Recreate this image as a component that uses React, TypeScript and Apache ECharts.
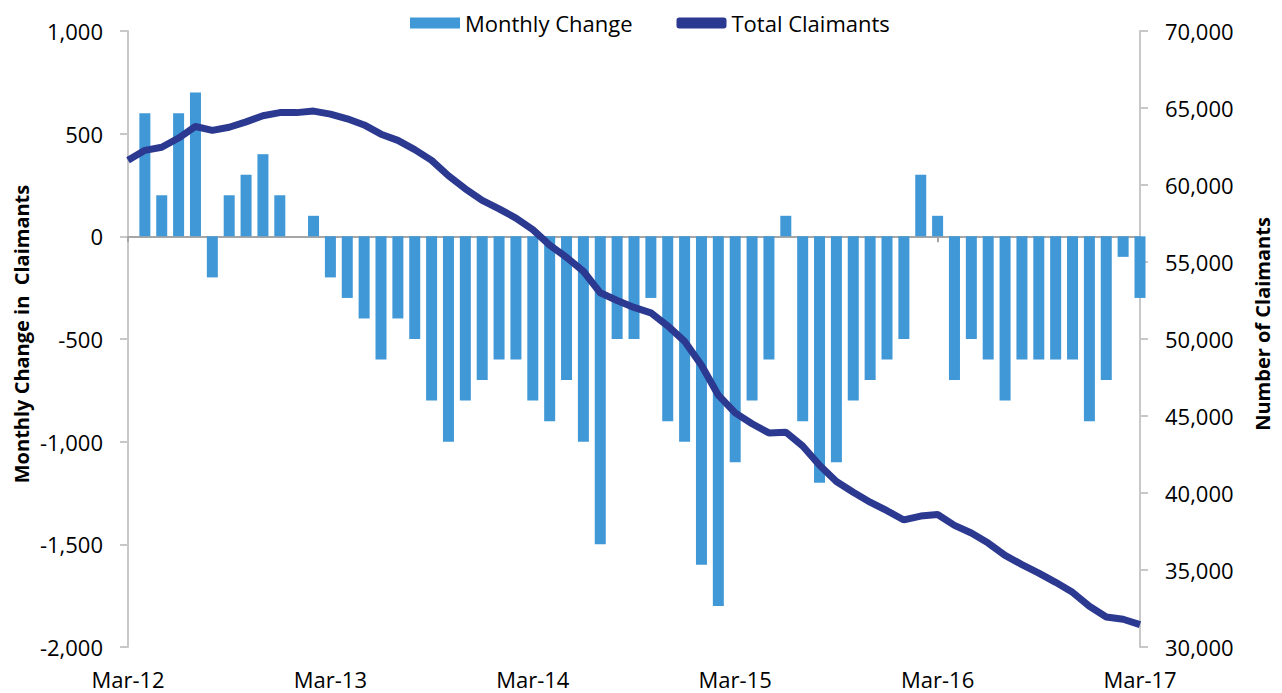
import React, { useEffect, useRef } from "react";
import * as echarts from "echarts";

const months = [
  "Mar-12", "Apr-12", "May-12", "Jun-12", "Jul-12", "Aug-12", "Sep-12", "Oct-12", "Nov-12", "Dec-12", "Jan-13", "Feb-13",
  "Mar-13", "Apr-13", "May-13", "Jun-13", "Jul-13", "Aug-13", "Sep-13", "Oct-13", "Nov-13", "Dec-13", "Jan-14", "Feb-14",
  "Mar-14", "Apr-14", "May-14", "Jun-14", "Jul-14", "Aug-14", "Sep-14", "Oct-14", "Nov-14", "Dec-14", "Jan-15", "Feb-15",
  "Mar-15", "Apr-15", "May-15", "Jun-15", "Jul-15", "Aug-15", "Sep-15", "Oct-15", "Nov-15", "Dec-15", "Jan-16", "Feb-16",
  "Mar-16", "Apr-16", "May-16", "Jun-16", "Jul-16", "Aug-16", "Sep-16", "Oct-16", "Nov-16", "Dec-16", "Jan-17", "Feb-17",
  "Mar-17",
];

const monthlyChange = [
  null, 600, 200, 600, 700, -200, 200, 300, 400, 200, 0, 100,
  -200, -300, -400, -600, -400, -500, -800, -1000, -800, -700, -600, -600,
  -800, -900, -700, -1000, -1500, -500, -500, -300, -900, -1000, -1600, -1800,
  -1100, -800, -600, 100, -900, -1200, -1100, -800, -700, -600, -500, 300,
  100, -700, -500, -600, -800, -600, -600, -600, -600, -900, -700, -100,
  -300,
];

const totalClaimants = [
  61600, 62250, 62450, 63050, 63800, 63550, 63750, 64100, 64500, 64700, 64700, 64800,
  64600, 64300, 63900, 63300, 62900, 62300, 61600, 60600, 59750, 59000, 58450, 57850,
  57100, 56100, 55300, 54400, 53000, 52500, 52050, 51700, 50850, 49850, 48300, 46350,
  45200, 44500, 43900, 43950, 43050, 41800, 40750, 40050, 39400, 38850, 38250, 38500,
  38600, 37900, 37400, 36750, 35950, 35350, 34800, 34200, 33550, 32650, 31950, 31800,
  31450,
];

const FONT = '"Open Sans", "Noto Sans", sans-serif';
const fmt = (v: number) => v.toLocaleString("en-US");

export default function App() {
  const ref = useRef<HTMLDivElement>(null);
  useEffect(() => {
    if (!ref.current) return;
    const chart = echarts.init(ref.current, undefined, { renderer: "svg" });
    chart.setOption({
      animation: false,
      backgroundColor: "#ffffff",
      textStyle: { fontFamily: FONT },
      grid: { left: 128, right: 142, top: 31, bottom: 46, containLabel: false },
      legend: {
        left: 405,
        top: 7,
        itemWidth: 50,
        itemHeight: 11,
        itemGap: 44,
        textStyle: { fontSize: 22, color: "#000", fontFamily: FONT },
        data: [
          { name: "Monthly Change", icon: "rect" },
          { name: "Total Claimants", icon: "roundRect" },
        ],
      },
      xAxis: [
        {
          type: "category",
          data: months,
          boundaryGap: false,
          position: "bottom",
          axisLine: { show: false, onZero: false },
          axisTick: { show: false },
          splitLine: { show: false },
          axisLabel: {
            interval: 11,
            margin: 21,
            fontSize: 22,
            color: "#000",
            fontFamily: FONT,
            showMaxLabel: true,
          },
        },
        {
          type: "category",
          data: months,
          boundaryGap: false,
          position: "bottom",
          axisLine: { show: true, onZero: true, onZeroAxisIndex: 0, lineStyle: { color: "#a6a6a6", width: 2 } },
          axisTick: { show: true, interval: 11, length: 6, inside: false, lineStyle: { color: "#a6a6a6", width: 2 } },
          axisLabel: { show: false },
          splitLine: { show: false },
        },
      ],
      yAxis: [
        {
          type: "value",
          min: -2000,
          max: 1000,
          interval: 500,
          position: "left",
          axisLine: { show: true, lineStyle: { color: "#c8c8c8", width: 2 } },
          axisTick: { show: true, length: 8, lineStyle: { color: "#c8c8c8", width: 2 } },
          splitLine: { show: false },
          axisLabel: { margin: 25, fontSize: 22, color: "#000", fontFamily: FONT, formatter: fmt },
        },
        {
          type: "value",
          min: 30000,
          max: 70000,
          interval: 5000,
          position: "right",
          axisLine: { show: true, lineStyle: { color: "#c8c8c8", width: 2 } },
          axisTick: { show: true, length: 8, lineStyle: { color: "#c8c8c8", width: 2 } },
          splitLine: { show: false },
          axisLabel: { margin: 25, fontSize: 22, color: "#000", fontFamily: FONT, formatter: fmt },
        },
      ],
      graphic: [
        {
          type: "text",
          x: 21,
          y: 334,
          rotation: Math.PI / 2,
          style: {
            text: "Monthly Change in  Claimants",
            font: `bold 20px ${FONT}`,
            fill: "#000",
            textAlign: "center",
            textVerticalAlign: "middle",
          },
        },
        {
          type: "text",
          x: 1262,
          y: 324,
          rotation: Math.PI / 2,
          style: {
            text: "Number of Claimants",
            font: `bold 20px ${FONT}`,
            fill: "#000",
            textAlign: "center",
            textVerticalAlign: "middle",
          },
        },
      ],
      series: [
        {
          name: "Monthly Change",
          type: "bar",
          xAxisIndex: 0,
          yAxisIndex: 0,
          data: monthlyChange,
          barWidth: 11,
          clip: false,
          itemStyle: { color: "#4198d6" },
        },
        {
          name: "Total Claimants",
          type: "line",
          xAxisIndex: 0,
          yAxisIndex: 1,
          data: totalClaimants,
          symbol: "none",
          lineStyle: { color: "#2b3990", width: 7 },
          itemStyle: { color: "#2b3990" },
          z: 3,
        },
      ],
    });
    return () => chart.dispose();
  }, []);
  return (
    <div
      ref={ref}
      style={{ position: "absolute", left: 0, top: 0, width: 1282, height: 693, background: "#fff" }}
    />
  );
}
